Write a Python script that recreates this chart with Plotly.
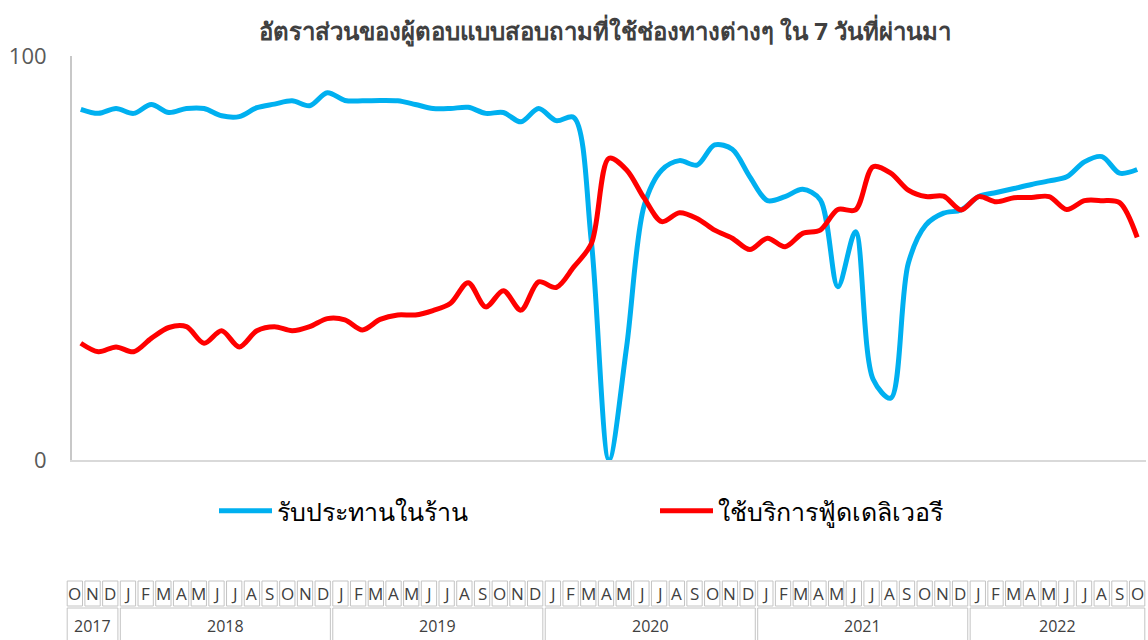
import pandas as pd
import plotly.graph_objects as go

# ---------------- data ----------------
months = pd.date_range("2017-10-01", periods=61, freq="MS")
month_letters = [m.strftime("%b")[0] for m in months]
years = [2017, 2018, 2019, 2020, 2021, 2022]

dine_in = [86.8, 85.8, 87.0, 85.8, 88.0, 86.0, 87.0, 87.0, 85.2, 85.0,
           87.2, 88.1, 88.9, 87.7, 90.9, 89.0, 88.9, 89.0, 88.9, 88.0,
           87.0, 87.0, 87.3, 85.8, 86.0, 83.7, 87.0, 84.0, 84.8, 54.0,
           0.0, 28.0, 63.0, 71.8, 74.1, 73.0, 78.0, 76.9, 70.1, 64.2,
           65.2, 67.0, 64.4, 42.9, 56.5, 20.0, 15.3, 48.7, 58.2, 61.1,
           61.9, 65.2, 66.2, 67.2, 68.2, 69.1, 70.1, 73.8, 75.1, 71.0,
           71.9]

delivery = [28.9, 26.8, 28.0, 26.8, 30.1, 32.8, 33.0, 28.9, 32.0, 28.0,
            32.0, 33.0, 32.0, 33.0, 35.0, 34.7, 32.2, 34.8, 35.9, 35.9,
            37.0, 38.8, 43.9, 37.9, 41.9, 37.1, 44.1, 42.7, 47.8, 53.6,
            74.7, 71.8, 64.8, 59.0, 61.2, 59.8, 56.9, 54.9, 52.1, 54.9,
            52.8, 56.1, 56.9, 62.0, 61.9, 72.6, 71.0, 66.8, 65.2, 65.3,
            61.9, 65.2, 63.9, 64.9, 65.0, 65.2, 62.0, 64.2, 64.2, 63.7,
            55.1]

series_names = ["รับประทานในร้าน", "ใช้บริการฟู้ดเดลิเวอรี"]
series_colors = ["#00B0F0", "#FF0000"]
title_text = "อัตราส่วนของผู้ตอบแบบสอบถามที่ใช้ช่องทางต่างๆ ใน 7 วันที่ผ่านมา"

# ---------------- figure ----------------
W, H = 1148, 640
ML, MR, MT, MB = 66, 2, 56, 180
plot_w = W - ML - MR
plot_h = H - MT - MB
n = len(months)
idx = list(range(n))

fig = go.Figure()
for name, vals, col in zip(series_names, [dine_in, delivery], series_colors):
    fig.add_trace(go.Scatter(
        x=idx, y=vals, name=name, mode="lines",
        line=dict(color=col, width=5, shape="spline", smoothing=0.9),
        hoverinfo="skip",
    ))

main_left = (72 - ML) / plot_w


def py(ypx):
    return 1 - (ypx - MT) / plot_h


def px(xpx):
    return (xpx - ML) / plot_w


fig.update_layout(
    width=W, height=H,
    margin=dict(l=ML, r=MR, t=MT, b=MB),
    paper_bgcolor="white", plot_bgcolor="white",
    font=dict(family="Noto Sans, Open Sans, sans-serif"),
    title=dict(text="<b>" + title_text + "</b>", x=605 / W, xanchor="center",
               y=1 - 32 / H, yanchor="middle", yref="container",
               font=dict(size=24, color="#404040")),
    xaxis=dict(domain=[main_left, 1], range=[-0.5, n - 0.5],
               showgrid=False, zeroline=False, showticklabels=False,
               showline=True, linecolor="#d9d9d9", linewidth=2, ticks=""),
    yaxis=dict(range=[0, 100], tickvals=[0, 100], showgrid=False, zeroline=False,
               showline=True, linecolor="#c8c8c8", linewidth=2, ticks="",
               ticklabelstandoff=19,
               tickfont=dict(family="Open Sans, sans-serif", size=22, color="#595959")),
    showlegend=True,
    legend=dict(orientation="h", x=px(214), xanchor="left", y=py(511), yanchor="middle",
                font=dict(size=25, color="#000000"), itemwidth=53,
                entrywidth=373, bgcolor="rgba(0,0,0,0)"),
)

# ---------------- month / year table below chart ----------------
border = "#c4c4c4"
txt_col = "#404040"
tbl_left, tbl_right = 66, 1146
cell = (tbl_right - tbl_left) / n
gap = 1.2


def cx(i_edge):
    return px(tbl_left + i_edge * cell)


row1_top, row1_bot = py(581), py(606)
row2_top, row2_bot = py(608), py(650)

shapes = []
annotations = []
for i, letter in enumerate(month_letters):
    shapes.append(dict(type="rect", xref="paper", yref="paper",
                       x0=cx(i) + gap / plot_w, x1=cx(i + 1) - gap / plot_w,
                       y0=row1_bot, y1=row1_top,
                       line=dict(color=border, width=1)))
    annotations.append(dict(xref="paper", yref="paper", x=cx(i + 0.5), y=(row1_top + row1_bot) / 2,
                            text=letter, showarrow=False, yanchor="middle", xanchor="center",
                            font=dict(family="Open Sans, sans-serif", size=17, color=txt_col)))

for yr in years:
    pos = [i for i, m in enumerate(months) if m.year == yr]
    e0, e1 = pos[0], pos[-1] + 1
    shapes.append(dict(type="rect", xref="paper", yref="paper",
                       x0=cx(e0) + gap / plot_w, x1=cx(e1) - gap / plot_w,
                       y0=row2_bot, y1=row2_top,
                       line=dict(color=border, width=1)))
    annotations.append(dict(xref="paper", yref="paper", x=cx((e0 + e1) / 2), y=py(626),
                            text=str(yr), showarrow=False, yanchor="middle", xanchor="center",
                            font=dict(family="Open Sans, sans-serif", size=16, color=txt_col)))

fig.update_layout(shapes=shapes, annotations=annotations)

fig.write_html("out.html", config={"displayModeBar": False},
               post_script="document.body.style.margin='0px';")
